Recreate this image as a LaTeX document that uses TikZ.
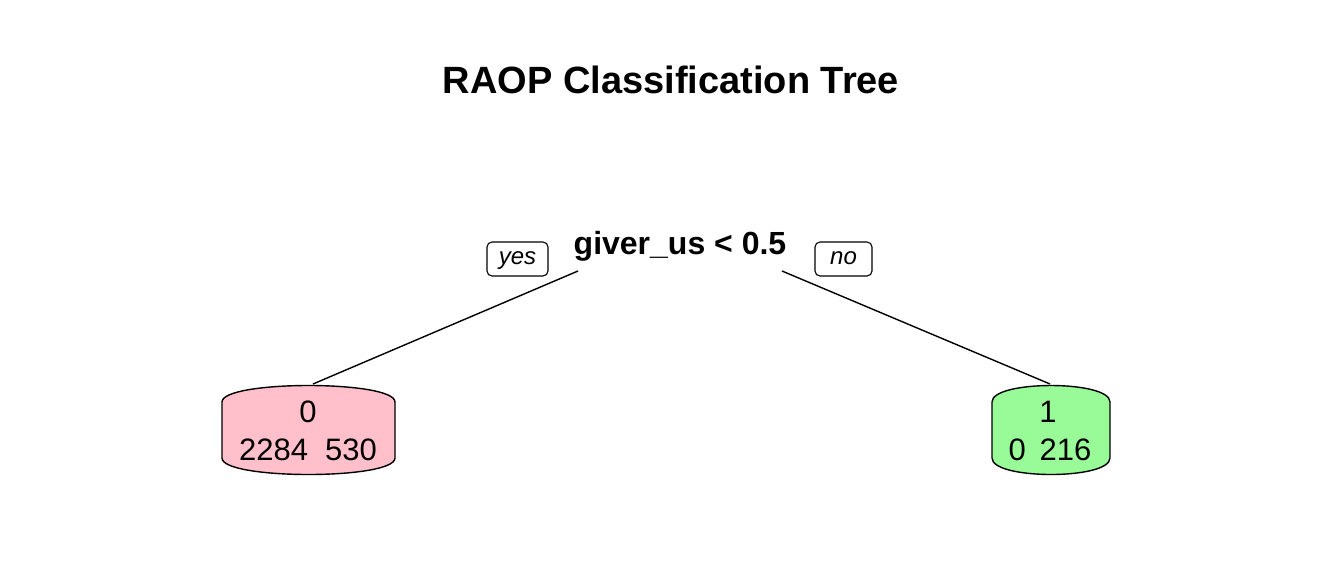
\documentclass[tikz,border=0pt]{standalone}
\usepackage{fontspec}
\setmainfont{Liberation Sans}
\definecolor{leafpink}{RGB}{255,192,203}
\definecolor{leafgreen}{RGB}{152,251,152}
\begin{document}
\begin{tikzpicture}[x=1pt,y=-1pt,
  titlestyle/.style={font=\fontsize{38}{44}\selectfont\bfseries, inner sep=0pt},
  splitstyle/.style={font=\fontsize{32}{38}\selectfont\bfseries, inner sep=0pt},
  yesno/.style={draw, rounded corners=5pt, line width=1.1pt, font=\fontsize{24}{30}\selectfont\itshape, minimum height=34pt, inner sep=0pt, text height=16pt, text depth=6pt},
  leaftext/.style={font=\fontsize{31}{36}\selectfont, inner sep=0pt, align=center},
  edge/.style={line width=1.4pt},
  leafline/.style={line width=1.4pt}
]
\useasboundingbox (0,0) rectangle (1344,576);
\node[titlestyle] (title) at (671,80) {RAOP Classification Tree};
\node[splitstyle] (split) at (680,246) {giver\_us < 0.5};
\node[yesno, minimum width=61pt] (yes) at (517.5,259) {yes};
\node[yesno, minimum width=57pt] (no) at (843.5,259) {no};
\coordinate (splitL) at (578,271);
\coordinate (splitR) at (782,271);
% leaves
\draw[leafline, fill=leafpink] (222,458) -- (222,402) .. controls (222,380) and (395,380) .. (395,402) -- (395,458) .. controls (395,480) and (222,480) .. (222,458) -- cycle;
\coordinate (leafAtop) at (313,384);
\node[leaftext] (leafA1) at (308,412) {0};
\node[leaftext] (leafA2) at (308,450) {2284\hspace{0.55em}530};
\draw[leafline, fill=leafgreen] (992,458) -- (992,402) .. controls (992,380) and (1110,380) .. (1110,402) -- (1110,458) .. controls (1110,480) and (992,480) .. (992,458) -- cycle;
\coordinate (leafBtop) at (1050,384);
\node[leaftext] (leafB1) at (1048,412) {1};
\node[leaftext] (leafB2) at (1050,450) {0\hspace{0.45em}216};
\draw[edge] (splitL) -- (leafAtop);
\draw[edge] (splitR) -- (leafBtop);
\end{tikzpicture}
\end{document}
